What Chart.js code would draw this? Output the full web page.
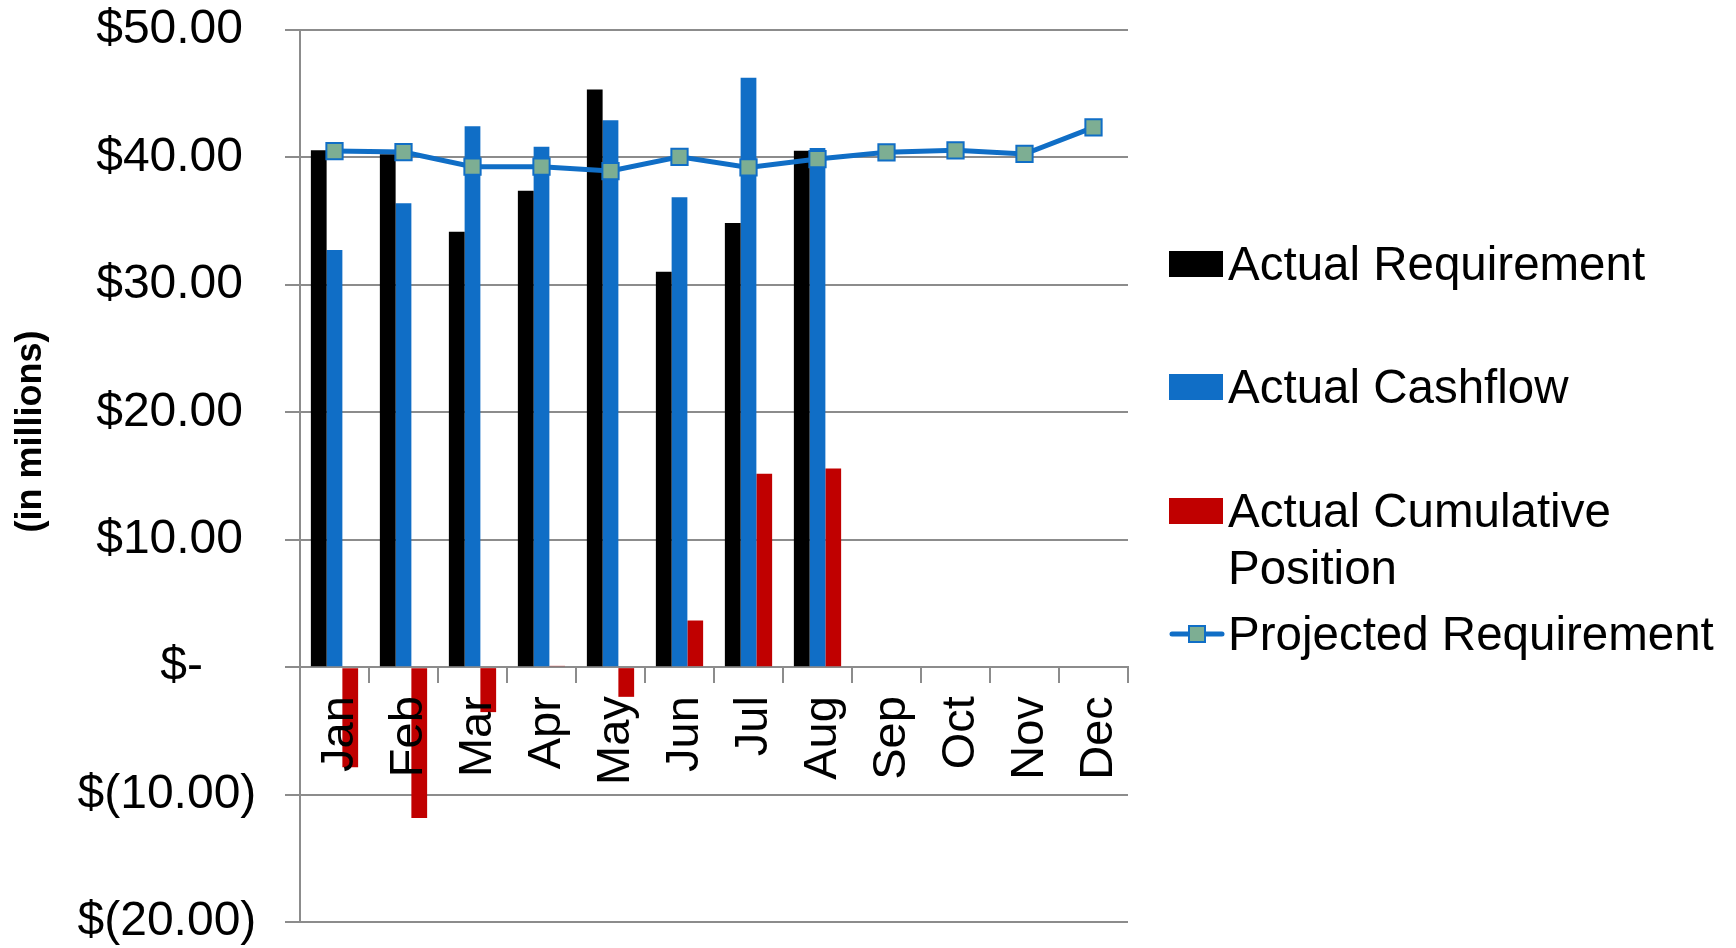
<!DOCTYPE html>
<html>
<head>
<meta charset="utf-8">
<title>Requirement vs Cashflow</title>
<script src="https://cdn.jsdelivr.net/npm/chart.js@4.4.0/dist/chart.umd.min.js"></script>
<style>
  html, body { margin: 0; padding: 0; background: #fff; overflow: hidden; }
  #wrap { position: relative; width: 1736px; height: 948px; }
  #wrap canvas#chart { display: block; }
  #legend {
    position: absolute; left: 1169px; top: 235px; width: 567px;
    font: 47.5px "Liberation Sans", Arial, sans-serif; color: #000;
  }
  #legend .item { display: flex; align-items: flex-start; height: 123.3px; line-height: 57px; }
  #legend .swatch { flex: none; width: 54px; height: 26px; margin-top: 16px; margin-right: 5px; }
  #legend .label { width: 500px; white-space: normal; }
</style>
</head>
<body>
<div id="wrap">
  <canvas id="chart"></canvas>
  <div id="legend"></div>
</div>
<script>
const months = ['Jan', 'Feb', 'Mar', 'Apr', 'May', 'Jun', 'Jul', 'Aug', 'Sep', 'Oct', 'Nov', 'Dec'];

// $ millions
const actualRequirement = [40.56, 40.24, 34.17, 37.39, 45.34, 31.03, 34.85, 40.52, null, null, null, null];
const actualCashflow = [32.73, 36.40, 42.44, 40.84, 42.91, 36.87, 46.25, 40.74, null, null, null, null];
const cumulativePosition = [-7.85, -11.83, -3.53, 0.1, -2.33, 3.66, 15.17, 15.59, null, null, null, null];
const projectedRequirement = [40.50, 40.42, 39.27, 39.27, 38.93, 40.05, 39.22, 39.87, 40.40, 40.56, 40.27, 42.36];

const yTicks = { min: -20, max: 50, step: 10 };
const yTitle = '(in millions)';

const BLUE = '#106ec6';
const GRID = '#8c8c8c';
const FONT = '"Liberation Sans", Arial, sans-serif';

// accounting-style labels: $50.00 / $(10.00) / $-  (trailing spaces keep the columns lined up)
function money(v) {
  if (v === 0) return '$-      ';
  const s = Math.abs(v).toFixed(2);
  return v < 0 ? '$(' + s + ')  ' : '$' + s + '   ';
}

// rotated axis caption, sitting a little above the middle like the old spreadsheet version
const axisTitle = {
  id: 'axisTitle',
  afterDraw(chart) {
    const { ctx, chartArea } = chart;
    ctx.save();
    ctx.translate(31, chartArea.top + chartArea.height * 0.45);
    ctx.rotate(-Math.PI / 2);
    ctx.font = 'bold 36px ' + FONT;
    ctx.fillStyle = '#000';
    ctx.textAlign = 'center';
    ctx.textBaseline = 'middle';
    ctx.fillText(yTitle, 0, 0);
    ctx.restore();
  }
};

// legend rendered as html next to the plot
const htmlLegend = {
  id: 'htmlLegend',
  afterUpdate(chart) {
    const box = document.getElementById('legend');
    box.innerHTML = '';
    chart.data.datasets.forEach(ds => {
      const item = document.createElement('div');
      item.className = 'item';
      let sw;
      if (ds.type === 'line') {
        sw = document.createElement('canvas');
        sw.width = 56; sw.height = 26;
        const c = sw.getContext('2d');
        c.strokeStyle = ds.borderColor;
        c.lineWidth = 5;
        c.lineCap = 'round';
        c.beginPath(); c.moveTo(3, 13); c.lineTo(53, 13); c.stroke();
        c.fillStyle = ds.pointBackgroundColor;
        c.lineWidth = 2;
        c.fillRect(20, 5, 16, 16);
        c.strokeRect(20, 5, 16, 16);
        sw.className = 'swatch';
        sw.style.width = '56px';
        sw.style.marginRight = '3px';
      } else {
        sw = document.createElement('div');
        sw.className = 'swatch';
        sw.style.background = ds.backgroundColor;
      }
      const label = document.createElement('div');
      label.className = 'label';
      label.textContent = ds.label;
      item.appendChild(sw);
      item.appendChild(label);
      box.appendChild(item);
    });
  }
};

new Chart(document.getElementById('chart'), {
  type: 'bar',
  data: {
    labels: months,
    datasets: [
      { label: 'Actual Requirement', data: actualRequirement, backgroundColor: '#000000', order: 1 },
      { label: 'Actual Cashflow', data: actualCashflow, backgroundColor: BLUE, order: 1 },
      { label: 'Actual Cumulative Position', data: cumulativePosition, backgroundColor: '#c00000', order: 1 },
      {
        type: 'line',
        label: 'Projected Requirement',
        data: projectedRequirement,
        borderColor: BLUE,
        borderWidth: 5,
        pointStyle: 'rect',
        pointRadius: 11.5,
        pointBackgroundColor: '#7dae93',
        pointBorderColor: BLUE,
        pointBorderWidth: 2,
        tension: 0,
        order: 0
      }
    ]
  },
  options: {
    responsive: true,
    maintainAspectRatio: false,
    animation: false,
    devicePixelRatio: 1,
    layout: { padding: { left: 0, right: 608, top: 30, bottom: 0 } },
    datasets: {
      bar: { categoryPercentage: 0.685, barPercentage: 1.0 }
    },
    plugins: {
      legend: { display: false },
      tooltip: { enabled: false }
    },
    scales: {
      x: {
        position: { y: 0 },
        afterFit: (scale) => { scale.height = 0; },
        grid: { drawOnChartArea: false, offset: true, tickLength: 15, color: GRID, lineWidth: 2 },
        border: { color: GRID, width: 2 },
        ticks: {
          z: 1, // month names stay readable over the negative bars
          minRotation: 90, maxRotation: 90, autoSkip: false, padding: 14, labelOffset: 6,
          color: '#000', font: { family: FONT, size: 47 }
        }
      },
      y: {
        min: yTicks.min,
        max: yTicks.max,
        afterFit: (scale) => { scale.width = 300; },
        grid: { color: GRID, lineWidth: 2, tickLength: 15 },
        border: { color: GRID, width: 2 },
        ticks: {
          stepSize: yTicks.step,
          padding: 2,
          color: '#000',
          font: { family: FONT, size: 48, lineHeight: 1 },
          callback: (v) => money(v)
        }
      }
    }
  },
  plugins: [axisTitle, htmlLegend]
});
</script>
</body>
</html>
